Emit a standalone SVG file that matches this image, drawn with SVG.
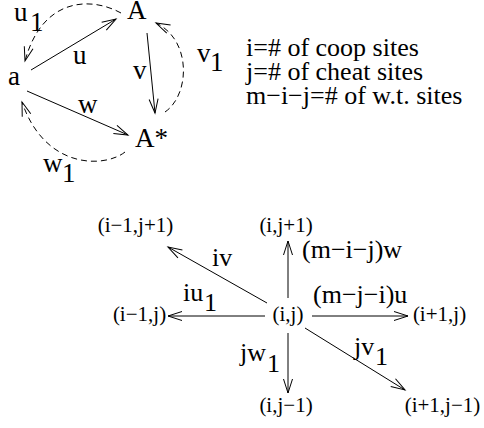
<svg xmlns="http://www.w3.org/2000/svg" width="484" height="428" viewBox="0 0 484 428">
<style>
text { font-family: "Liberation Serif", "Times New Roman", serif; fill: #000; }
.big { font-size: 27px; }
.lab { font-size: 26px; }
.node { font-size: 21px; text-anchor: middle; }
.ln { fill: none; stroke: #000; stroke-width: 1; marker-end: url(#ah); }
.dash { fill: none; stroke: #000; stroke-width: 1; stroke-dasharray: 6 4; marker-end: url(#ah); }
</style>
<defs>
<marker id="ah" markerUnits="userSpaceOnUse" orient="auto" overflow="visible" refX="0" refY="0" markerWidth="1" markerHeight="1">
<path d="M-14,-4.5 L0,0 L-14,4.5" fill="none" stroke="#000" stroke-width="1" stroke-dasharray="none"/>
</marker>
</defs>
<g id="connectors">
<path class="ln" d="M31,70 L116,19"/>
<path class="ln" d="M147,33 L155,113"/>
<path class="ln" d="M27,91 L128,135"/>
<path class="dash" d="M121,13 C90,-4 42,-2 25,61"/>
<path class="dash" d="M165,112 C190,95 192,40 156,23"/>
<path class="dash" d="M125,152 C105,168 45,170 22,102"/>
<path class="ln" d="M267,303 L168,247"/>
<path class="ln" d="M288,298 L288,241"/>
<path class="ln" d="M265,316 L168,316"/>
<path class="ln" d="M312,316 L408,316"/>
<path class="ln" d="M288,333 L288,393"/>
<path class="ln" d="M305,328 L405,390"/>
</g>
<g id="node-A"><text class="big" x="127" y="19">A</text></g>
<g id="node-a"><text class="big" x="8" y="85">a</text></g>
<g id="node-Astar"><text class="big" x="135" y="147">A*</text></g>
<g id="edge-labels-top">
<text class="big" x="14" y="21">u</text><text class="big" x="30" y="31">1</text>
<text class="big" x="73" y="64">u</text>
<text class="big" x="133" y="79">v</text>
<text class="big" x="197" y="62">v</text><text class="big" x="210" y="71">1</text>
<text class="big" x="78" y="113">w</text>
<text class="big" x="43" y="172">w</text><text class="big" x="62" y="182">1</text>
</g>
<g id="legend">
<text class="lab" x="246" y="56">i=# of coop sites</text>
<text class="lab" x="246" y="80">j=# of cheat sites</text>
<text class="lab" x="246" y="104">m−i−j=# of w.t. sites</text>
</g>
<g id="node-ij"><text class="node" x="288" y="321">(i,j)</text></g>
<g id="node-im1jp1"><text class="node" x="135.5" y="232">(i−1,j+1)</text></g>
<g id="node-ijp1"><text class="node" x="286" y="232">(i,j+1)</text></g>
<g id="node-im1j"><text class="node" x="139.5" y="321">(i−1,j)</text></g>
<g id="node-ip1j"><text class="node" x="439.5" y="321">(i+1,j)</text></g>
<g id="node-ijm1"><text class="node" x="286" y="412">(i,j−1)</text></g>
<g id="node-ip1jm1"><text class="node" x="442.5" y="412">(i+1,j−1)</text></g>
<g id="edge-labels-bottom">
<text class="lab" x="212" y="266">iv</text>
<text class="lab" x="302" y="258">(m−i−j)w</text>
<text class="lab" x="183" y="301">iu</text><text class="lab" x="204" y="311">1</text>
<text class="lab" x="313" y="303">(m−j−i)u</text>
<text class="lab" x="240" y="361">jw</text><text class="lab" x="267" y="372">1</text>
<text class="lab" x="354" y="355">jv</text><text class="lab" x="375" y="365">1</text>
</g>
</svg>
